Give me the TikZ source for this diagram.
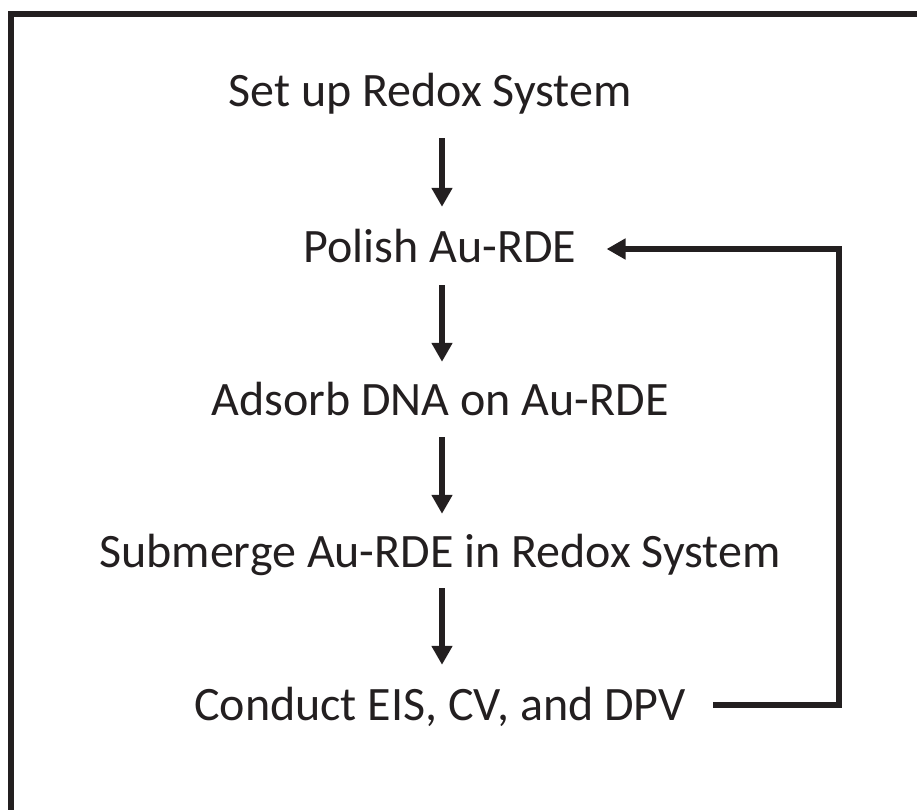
\documentclass[tikz,border=0pt]{standalone}
\usepackage{fontspec}
\setmainfont{Carlito}
\usepackage{tikz}
\usetikzlibrary{arrows.meta,positioning}
\definecolor{inkgray}{HTML}{231F20}

\begin{document}
\begin{tikzpicture}[x=1pt,y=-1pt]
    \tikzset{vertex/.style = {inner sep=0pt,text height=30pt,text depth=0pt,anchor=base,text=inkgray,font=\fontsize{48}{57}\selectfont}}
    \tikzset{edge/.style = {-{Triangle[width=20pt,length=19pt]},line width=6.5pt,draw=inkgray}}
    \useasboundingbox (0,0) rectangle (917,810);
    % frame
    \draw[line width=6pt,draw=inkgray] (11,810) -- (11,14) -- (917,14);
    % vertices
    \node[vertex] (setup)    at (430,107) {Set up Redox System};
    \node[vertex] (polish)   at (440,262) {Polish Au-RDE};
    \node[vertex] (adsorb)   at (440,415) {Adsorb DNA on Au-RDE};
    \node[vertex] (submerge) at (440,567) {Submerge Au-RDE in Redox System};
    \node[vertex] (conduct)  at (440,720) {Conduct EIS, CV, and DPV};
    \coordinate (fbtop) at (839,249);
    \coordinate (fbbot) at (839,705);
    % edges
    \draw[edge,shorten <=31pt,shorten >=25pt] (setup.south -| 442,0) -- (polish.north -| 442,0);
    \draw[edge,shorten <=23pt,shorten >=23pt] (polish.south -| 442,0) -- (adsorb.north -| 442,0);
    \draw[edge,shorten <=22pt,shorten >=23pt] (adsorb.south -| 442,0) -- (submerge.north -| 442,0);
    \draw[edge,shorten <=21pt,shorten >=25pt] (submerge.south -| 442,0) -- (conduct.north -| 442,0);
    \draw[edge,shorten <=27pt,shorten >=30pt] (conduct.east |- fbbot) -- (fbbot) -- (fbtop) -- (polish.east |- fbtop);
\end{tikzpicture}
\end{document}
